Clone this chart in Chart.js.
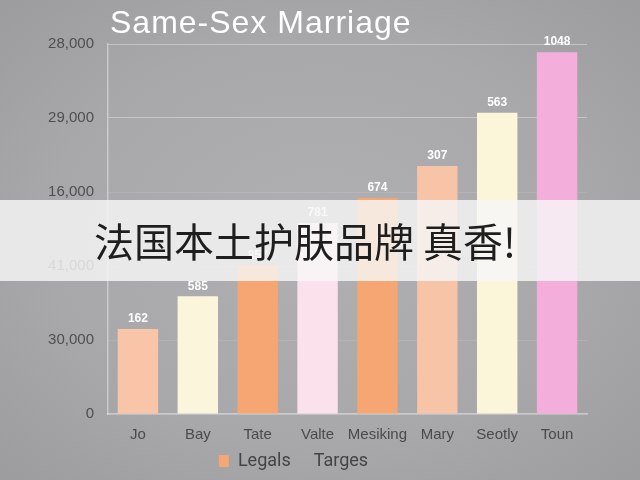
<!DOCTYPE html>
<html>
<head>
<meta charset="utf-8">
<script src="https://cdn.jsdelivr.net/npm/chart.js@4"></script>
<style>
  html, body { margin: 0; padding: 0; }
  body { width: 640px; height: 480px; overflow: hidden; background: #a9a8ab; position: relative; }
  #wrap { position: absolute; left: 0; top: 0; width: 640px; height: 480px;
    background: radial-gradient(ellipse at center, #b0afb2 0%, #a8a7aa 60%, #9c9b9e 100%); }
  #banner { position: absolute; left: 0; top: 200px; width: 640px; height: 81px;
    background: rgba(246,246,247,0.82); font-family: "Noto Sans CJK SC", sans-serif;
    font-size: 40px; color: #1e1e1e; line-height: 81px; padding-left: 94px; box-sizing: border-box; }
</style>
</head>
<body>
<div id="wrap"><canvas id="myChart" width="640" height="480"></canvas></div>
<div id="banner">法国本土护肤品牌 真香!</div>
<script>
// chart data
const categories = ['Jo', 'Bay', 'Tate', 'Valte', 'Mesiking', 'Mary', 'Seotly', 'Toun'];
const barHeights = [1.15, 1.59, 2.01, 2.58, 2.92, 3.35, 4.07, 4.89];
const barLabels = ['162', '585', '857', '781', '674', '307', '563', '1048'];
const yTickLabels = ['0', '30,000', '41,000', '16,000', '29,000', '28,000'];
const barColors = ['#f9c5a8', '#fbf5dc', '#f6a672', '#fbe1eb', '#f6a672', '#f8c4a7', '#fbf5da', '#f4aedb'];
const legendNames = ['Legals', 'Targes'];

const ctx = document.getElementById('myChart');

// labels above bars + title
const extras = {
  id: 'extras',
  afterDatasetsDraw(chart) {
    const c = chart.ctx;
    const meta = chart.getDatasetMeta(0);
    c.save();
    c.fillStyle = '#ffffff';
    c.font = 'bold 12px "Liberation Sans", Arial, sans-serif';
    c.textAlign = 'center';
    c.textBaseline = 'bottom';
    meta.data.forEach((bar, i) => {
      c.fillText(barLabels[i], bar.x, bar.y - 4);
    });
    c.font = '32px "Liberation Sans", Arial, sans-serif';
    c.letterSpacing = '1px';
    c.textAlign = 'left';
    c.textBaseline = 'alphabetic';
    c.fillText('Same-Sex Marriage', 110, 33);
    c.restore();
  }
};

const data = {
  labels: categories,
  datasets: [{
    label: legendNames[0],
    data: barHeights,
    backgroundColor: barColors,
    borderWidth: 0,
    barPercentage: 0.75,
    categoryPercentage: 0.9
  }, {
    label: legendNames[1],
    data: [],
    backgroundColor: 'transparent'
  }]
};

const config = {
  type: 'bar',
  data,
  plugins: [extras],
  options: {
    responsive: false,
    animation: false,
    layout: { padding: { top: 44, right: 53, bottom: 0, left: 0 } },
    datasets: { bar: { grouped: false } },
    plugins: {
      title: { display: false },
      tooltip: { enabled: false },
      legend: {
        position: 'bottom',
        labels: {
          color: '#444',
          font: { size: 18, family: 'Roboto, sans-serif' },
          boxWidth: 10,
          boxHeight: 12,
          padding: 4,
          generateLabels: () => [
            { text: legendNames[0], fillStyle: '#f6a672', strokeStyle: 'transparent', lineWidth: 0, datasetIndex: 0, fontColor: '#444' },
            { text: legendNames[1], fillStyle: 'transparent', strokeStyle: 'transparent', lineWidth: 0, datasetIndex: 1, fontColor: '#444' }
          ]
        }
      }
    },
    scales: {
      x: {
        grid: { display: false },
        border: { color: 'rgba(255,255,255,0.4)', width: 1.5 },
        ticks: {
          color: '#4a4a4a',
          font: { size: 15, family: '"Liberation Sans", Arial, sans-serif' },
          padding: 4,
          maxRotation: 0,
          minRotation: 0,
          autoSkip: false
        }
      },
      y: {
        min: 0,
        max: 5,
        afterFit: s => { s.width = 108; },
        grid: {
          drawTicks: false,
          color: c => (c.index >= 4 ? 'rgba(255,255,255,0.35)' : 'rgba(255,255,255,0.1)')
        },
        border: { color: 'rgba(255,255,255,0.4)', width: 1.5 },
        ticks: {
          stepSize: 1,
          padding: 14,
          color: '#4f4f4f',
          font: { size: 15, family: '"Liberation Sans", Arial, sans-serif' },
          callback: v => yTickLabels[v]
        }
      }
    }
  }
};

let myChart = new Chart(ctx, config);
</script>
</body>
</html>
